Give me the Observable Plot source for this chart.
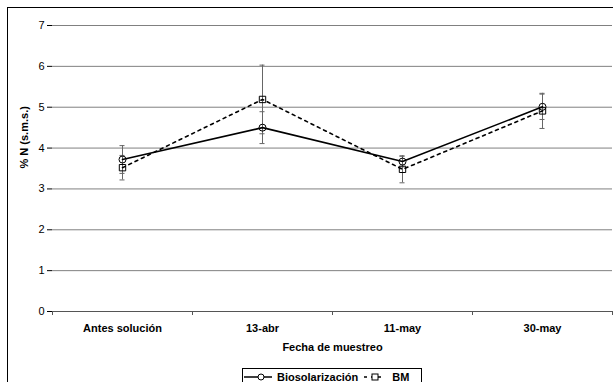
<!DOCTYPE html>
<html>
<head>
<meta charset="utf-8">
<script src="https://cdn.jsdelivr.net/npm/d3@7"></script>
<script src="https://cdn.jsdelivr.net/npm/@observablehq/plot@0.6"></script>
<style>
  html, body { margin: 0; padding: 0; background: #fff; overflow: hidden; }
  #wrap { position: relative; width: 613px; height: 382px; overflow: hidden; font-family: "Liberation Sans", Arial, sans-serif; }
  #border { position: absolute; left: 7px; top: 7px; width: 700px; height: 500px; border: 1px solid #000; }
  #chart { position: absolute; left: 0; top: 0; }
  #chart svg { background: transparent !important; }
  #legend { position: absolute; left: 242px; top: 368px; width: 180px; height: 24px; border: 1px solid #000; background: #fff;
            font-size: 11px; font-weight: bold; color: #000; display: flex; align-items: flex-start; padding-top: 2px; box-sizing: border-box; white-space: nowrap; }
  #legend svg { display: block; }
</style>
</head>
<body>
<div id="wrap">
  <div id="border"></div>
  <div id="chart"></div>
  <div id="legend"></div>
</div>
<script>
const categories = ["Antes solución", "13-abr", "11-may", "30-may"];
const bio = [3.72, 4.50, 3.67, 5.01];
const bioErr = [0.34, 0.39, 0.13, 0.31];
const bm = [3.52, 5.19, 3.48, 4.91];
const bmErr = [0.30, 0.84, 0.33, 0.43];
const yTicks = [0, 1, 2, 3, 4, 5, 6, 7];
const seriesNames = ["Biosolarización", "BM"];

const rows = [];
categories.forEach((c, i) => {
  rows.push({cat: c, x: i + 0.5, y: bio[i], e: bioErr[i], s: seriesNames[0]});
  rows.push({cat: c, x: i + 0.5, y: bm[i], e: bmErr[i], s: seriesNames[1]});
});
const bioRows = rows.filter(d => d.s === seriesNames[0]);
const bmRows = rows.filter(d => d.s === seriesNames[1]);
const cap = 0.018;

const chart = Plot.plot({
  width: 613,
  height: 382,
  marginLeft: 52,
  marginRight: 1,
  marginTop: 25,
  marginBottom: 71,
  style: {fontFamily: "'Liberation Sans', Arial, sans-serif", fontSize: "11px", background: "transparent", color: "#000"},
  x: {domain: [0, categories.length]},
  y: {domain: [0, 7]},
  marks: [
    Plot.gridY(yTicks.filter(t => t > 0), {stroke: "#808080", strokeOpacity: 1}),
    Plot.ruleY([0], {stroke: "#555"}),
    Plot.axisY(yTicks, {tickSize: 5, tickPadding: 3, line: true, stroke: "#000", label: null, fontSize: 11}),
    Plot.axisX(d3.range(categories.length + 1), {tickSize: 4, tickFormat: () => "", stroke: "#555", label: null}),
    Plot.axisX(categories.map((c, i) => i + 0.5), {tickSize: 0, tickPadding: 13, tickFormat: v => categories[v - 0.5], fontWeight: "bold", fontSize: 11, label: null}),
    Plot.text(["% N (s.m.s.)"], {frameAnchor: "left", dx: -28, rotate: -90, fontWeight: "bold", fontSize: 11, text: d => d}),
    Plot.text(["Fecha de muestreo"], {frameAnchor: "bottom", dy: 39, fontWeight: "bold", fontSize: 11, text: d => d}),
    // error bars
    Plot.ruleX(rows, {x: "x", y1: d => d.y - d.e, y2: d => d.y + d.e, stroke: "#666", strokeWidth: 1}),
    Plot.ruleY(rows, {x1: d => d.x - cap, x2: d => d.x + cap, y: d => d.y - d.e, stroke: "#666", strokeWidth: 1}),
    Plot.ruleY(rows, {x1: d => d.x - cap, x2: d => d.x + cap, y: d => d.y + d.e, stroke: "#666", strokeWidth: 1}),
    // lines
    Plot.line(bmRows, {x: "x", y: "y", stroke: "#000", strokeWidth: 1.6, strokeDasharray: "3,4"}),
    Plot.line(bioRows, {x: "x", y: "y", stroke: "#000", strokeWidth: 1.6}),
    Plot.dot(bmRows, {x: "x", y: "y", symbol: "square", r: 3.6, stroke: "#000", strokeWidth: 1, fill: "none"}),
    Plot.dot(bioRows, {x: "x", y: "y", symbol: "circle", r: 3.5, stroke: "#000", strokeWidth: 1, fill: "none"})
  ]
});
document.getElementById("chart").appendChild(chart);

// legend
const legend = document.getElementById("legend");
function sym(kind) {
  const svg = d3.create("svg").attr("width", 30).attr("height", 12);
  if (kind === "circle") {
    svg.append("line").attr("x1", 1).attr("x2", 29).attr("y1", 6).attr("y2", 6).attr("stroke", "#000").attr("stroke-width", 1.5);
    svg.append("circle").attr("cx", 18).attr("cy", 6).attr("r", 3).attr("fill", "#fff").attr("stroke", "#000");
  } else {
    svg.attr("width", 24);
    svg.append("line").attr("x1", 2).attr("x2", 22).attr("y1", 6).attr("y2", 6).attr("stroke", "#000").attr("stroke-width", 1.5).attr("stroke-dasharray", "3,4");
    svg.append("rect").attr("x", 10).attr("y", 3).attr("width", 6).attr("height", 6).attr("fill", "#fff").attr("stroke", "#000");
  }
  return svg.node();
}
function label(t, ml) {
  const s = document.createElement("span");
  s.textContent = t;
  s.style.marginLeft = ml + "px";
  s.style.lineHeight = "12px";
  return s;
}
legend.appendChild(sym("circle"));
legend.appendChild(label(seriesNames[0], 4));
const s2 = sym("square"); s2.style.marginLeft = "4px";
legend.appendChild(s2);
legend.appendChild(label(seriesNames[1], 6));
</script>
</body>
</html>
